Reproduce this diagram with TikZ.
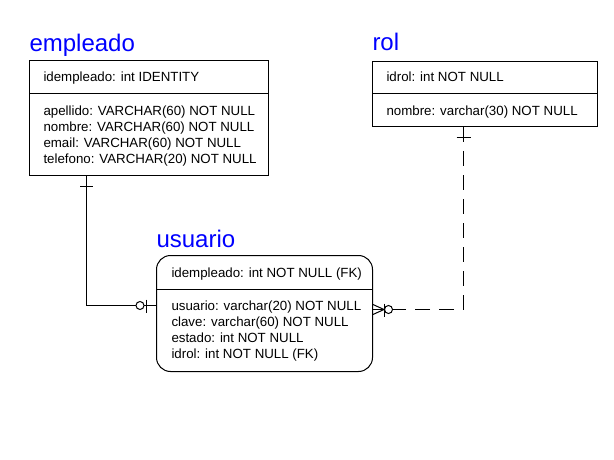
\documentclass[tikz,border=0pt]{standalone}
\usepackage{fontspec}
\setmainfont{Liberation Sans}
\usetikzlibrary{calc}
\begin{document}
\begin{tikzpicture}[x=1pt,y=-1pt,line width=1pt,
  box/.style={draw=black,fill=white,inner sep=0pt,anchor=north west},
  ttl/.style={anchor=base west,inner sep=0pt,text=blue,font=\fontsize{24}{24}\selectfont},
  attr/.style={anchor=base west,inner sep=0pt,font=\fontsize{13.3}{16}\selectfont},
  rel/.style={draw=black,line width=1pt},
  reldash/.style={draw=black,line width=1pt,dash pattern=on 15pt off 9pt}]
\useasboundingbox[fill=white] (0,0) rectangle (614,460);
% empleado
\node[ttl] (tEmp) at (29,52) {empleado};
\node[box,minimum width=239pt,minimum height=115pt] (emp) at (29,60) {};
\draw ([yshift=-34pt]emp.north west) -- ([yshift=-34pt]emp.north east);
\node[attr] (eA) at (43,82) {idempleado: int IDENTITY};
\node[attr] (eB) at (43,115.5) {apellido: VARCHAR(60) NOT NULL};
\node[attr] (eC) at (43,131.5) {nombre: VARCHAR(60) NOT NULL};
\node[attr] (eD) at (43,147.5) {email: VARCHAR(60) NOT NULL};
\node[attr] (eE) at (43,163.5) {telefono: VARCHAR(20) NOT NULL};
% rol
\node[ttl] (tRol) at (372,51) {rol};
\node[box,minimum width=225pt,minimum height=65pt] (rol) at (372,61) {};
\draw ([yshift=-33pt]rol.north west) -- ([yshift=-33pt]rol.north east);
\node[attr] (rA) at (386,82) {idrol: int NOT NULL};
\node[attr] (rB) at (386,116) {nombre: varchar(30) NOT NULL};
% usuario
\node[ttl] (tUsu) at (156,247) {usuario};
\node[box,rounded corners=14pt,minimum width=216pt,minimum height=116pt] (usu) at (156,255) {};
\draw ([yshift=-34pt]usu.north west) -- ([yshift=-34pt]usu.north east);
\node[attr] (uA) at (171,277) {idempleado: int NOT NULL (FK)};
\node[attr] (uB) at (171,310.5) {usuario: varchar(20) NOT NULL};
\node[attr] (uC) at (171,326.5) {clave: varchar(60) NOT NULL};
\node[attr] (uD) at (171,342.5) {estado: int NOT NULL};
\node[attr] (uE) at (171,358.5) {idrol: int NOT NULL (FK)};
% connector empleado - usuario
\coordinate (c1) at ($(emp.south west)+(57,0)$);
\coordinate (c2) at ([yshift=8pt]usu.west);
\draw[rel] (c1) |- (c2);
\draw[rel] ($(c1)+(-6,10)$) -- ($(c1)+(7,10)$);
\draw[rel] ($(c2)+(-10,-6)$) -- ($(c2)+(-10,7)$);
\draw[rel,fill=white] ($(c2)+(-16,0)$) circle (4pt);
% connector rol - usuario
\coordinate (d1) at ([xshift=-21.5pt]rol.south);
\coordinate (d2) at ([yshift=4pt]usu.east);
\draw[reldash] (d1) |- ($(d2)+(20,0)$);
\draw[rel] ($(d2)+(20,0)$) -- (d2);
\draw[rel] ($(d1)+(-7,11)$) -- ($(d1)+(7,11)$);
\draw[rel] (d2) ++(0,-5) -- ($(d2)+(11,0)$) -- ++(-11,5);
\draw[rel] ($(d2)+(11,-6)$) -- ($(d2)+(11,7)$);
\draw[rel,fill=white] ($(d2)+(15.5,0)$) circle (4pt);
\end{tikzpicture}
\end{document}
